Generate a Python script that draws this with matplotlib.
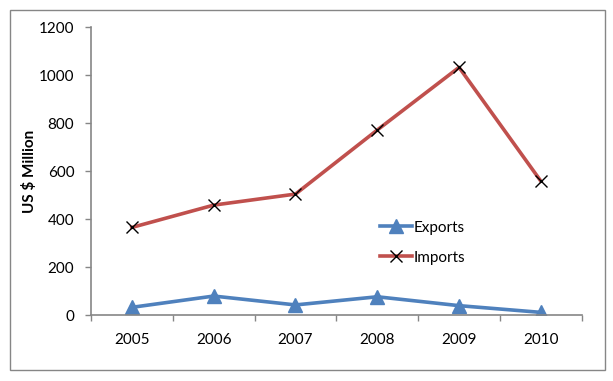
import matplotlib.pyplot as plt
from matplotlib.patches import Rectangle

plt.rcParams['font.family'] = ['Lato', 'DejaVu Sans']

years = ['2005', '2006', '2007', '2008', '2009', '2010']
exports = [32, 79, 42, 76, 39, 11]
imports = [365, 458, 504, 771, 1032, 558]

fig = plt.figure(figsize=(6.13, 3.81), dpi=100)
ax = fig.add_axes([0.1485, 0.1732, 0.8005, 0.7558])

# outer chart border
fig.patches.append(Rectangle((0.0163, 0.0289), 0.9706, 0.945, transform=fig.transFigure,
                             fill=False, edgecolor='#868686', linewidth=1.0))

x = list(range(len(years)))
ax.plot(x, exports, color='#4F81BD', linewidth=2.6, marker='^', markersize=10,
        markerfacecolor='#4F81BD', markeredgecolor='#4F81BD', label='Exports')
ax.plot(x, imports, color='#C0504D', linewidth=2.6, marker='x', markersize=9,
        markeredgecolor='black', markeredgewidth=1.0, label='Imports')

ax.set_xlim(-0.5, 5.5)
ax.set_ylim(0, 1200)
ax.set_yticks(range(0, 1201, 200))
ax.set_xticks(x)
ax.set_xticklabels(years)
ax.set_xticks([i + 0.5 for i in range(-1, 6)], minor=True)
ax.tick_params(axis='x', which='major', length=0, pad=13, labelsize=11)
ax.tick_params(axis='x', which='minor', length=4, color='#868686', width=1)
ax.tick_params(axis='y', length=4, color='#868686', width=1, pad=8, labelsize=11)

for s in ['top', 'right']:
    ax.spines[s].set_visible(False)
for s in ['left', 'bottom']:
    ax.spines[s].set_color('#868686')
    ax.spines[s].set_linewidth(1.2)

ax.set_ylabel('US $ Million', fontweight='bold', fontsize=11, labelpad=1)

ax.legend(loc='upper left', bbox_to_anchor=(0.56, 0.375), frameon=False, fontsize=11,
          handlelength=2.1, handletextpad=0.15, labelspacing=1.05)

fig.savefig('out.png', dpi=100)
